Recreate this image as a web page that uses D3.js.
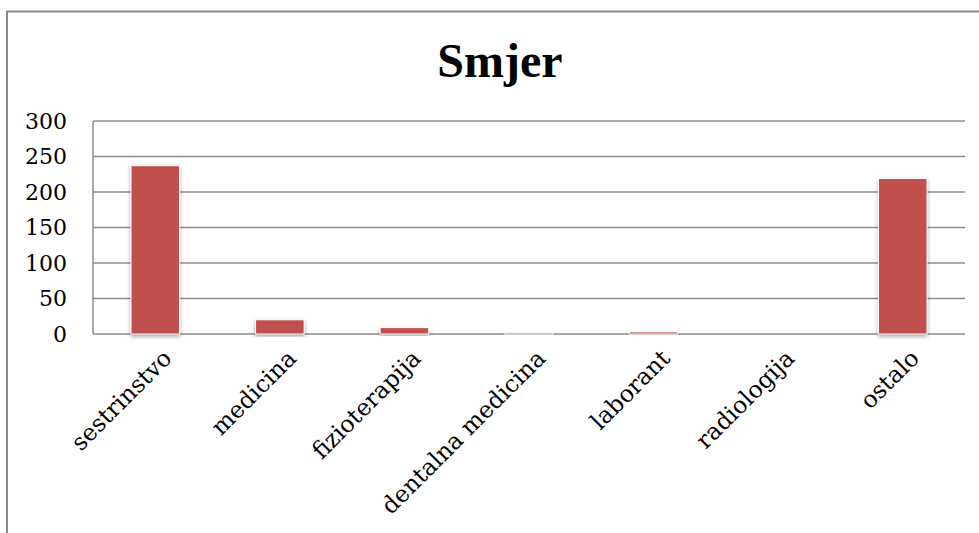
<!DOCTYPE html>
<html lang="en">
<head>
<meta charset="utf-8">
<style>
  body { margin: 0; background: white; }
  svg { display: block; background: white; }
  .tick text { font-family: 'DejaVu Serif', serif; font-size: 22px; fill: #000; }
  .grid line { stroke: #8c8c8c; stroke-width: 1.5px; }
  .title { font-family: 'Liberation Serif', serif; font-weight: bold; font-size: 48px; }
</style>
</head>
<body>
<svg width="979" height="533"></svg>
<script src="https://d3js.org/d3.v7.min.js"></script>
<script>
// data
const categories = ["sestrinstvo", "medicina", "fizioterapija", "dentalna medicina", "laborant", "radiologija", "ostalo"]
const values = [237, 20, 9, 2, 3, 0, 219]
const yTicks = [0, 50, 100, 150, 200, 250, 300]

const width = 979
const height = 533
const margin = { top: 121, bottom: 199, left: 93, right: 14 }

const svg = d3.select("svg")

const defs = svg.append("defs")
const shadow = defs.append("filter").attr("id", "shadow")
  .attr("x", "-20%").attr("y", "-20%").attr("width", "140%").attr("height", "140%")
shadow.append("feDropShadow")
  .attr("dx", 0).attr("dy", 2).attr("stdDeviation", 2)
  .attr("flood-color", "#000").attr("flood-opacity", 0.35)

// outer chart frame (cut at right and bottom)
svg.append("path")
  .attr("d", "M7,533 V11.5 H979")
  .attr("fill", "none").attr("stroke", "#8a8a8a").attr("stroke-width", 2)

svg.append("text").attr("class", "title")
  .attr("x", 500).attr("y", 77).attr("text-anchor", "middle")
  .text("Smjer")

const x = d3.scaleBand().domain(categories)
  .range([margin.left, width - margin.right])
const y = d3.scaleLinear().domain([0, 300])
  .range([height - margin.bottom, margin.top])

// horizontal gridlines
svg.append("g").attr("class", "grid")
  .selectAll("line").data(yTicks).join("line")
  .attr("x1", margin.left).attr("x2", width - margin.right)
  .attr("y1", d => y(d)).attr("y2", d => y(d))

// left axis line
svg.append("line")
  .attr("x1", margin.left).attr("x2", margin.left)
  .attr("y1", y(300)).attr("y2", y(0))
  .attr("stroke", "#8c8c8c").attr("stroke-width", 1.5)

const yAxis = d3.axisLeft(y).tickValues(yTicks).tickSize(0).tickPadding(26)
svg.append("g")
  .attr("transform", "translate(" + margin.left + ",0)")
  .call(yAxis)
  .call(g => g.select(".domain").remove())

const barW = x.bandwidth() * 0.39
svg.append("g")
  .selectAll("rect").data(values).join("rect")
  .attr("x", (d, i) => x(categories[i]) + x.bandwidth() / 2 - barW / 2)
  .attr("width", barW)
  .attr("y", d => y(d))
  .attr("height", d => y(0) - y(d))
  .attr("fill", "#c0504d")
  .attr("stroke", "#ffffff").attr("stroke-width", 1)
  .attr("filter", "url(#shadow)")

// rotated category labels
svg.append("g")
  .selectAll("text").data(categories).join("text")
  .attr("transform", d => "translate(" + (x(d) + x.bandwidth() / 2 + 6) + "," + (y(0) + 14) + ") rotate(-45)")
  .attr("text-anchor", "end")
  .attr("dy", "0.71em")
  .style("font-family", "'DejaVu Serif', serif")
  .style("font-size", "23.5px")
  .text(d => d)
</script>
</body>
</html>
